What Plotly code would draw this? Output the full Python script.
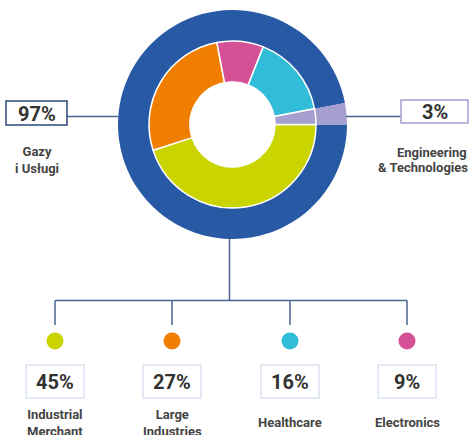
import plotly.graph_objects as go

W, H = 475, 435

# ---- data ----
outer_labels = ["Gazy i Usługi", "Engineering & Technologies"]
outer_values = [97, 3]
outer_colors = ["#2859A5", "#A59FCF"]

inner_labels = ["Industrial Merchant", "Large Industries", "Electronics", "Healthcare", "Engineering & Technologies"]
inner_values = [45, 27, 9, 16, 3]
inner_colors = ["#C9D400", "#F07E00", "#D55095", "#31BCD8", "#A59FCF"]

seg_labels = ["Industrial<br>Merchant", "Large<br>Industries", "Healthcare", "Electronics"]
seg_values = [45, 27, 16, 9]
seg_colors = ["#C9D400", "#F07E00", "#31BCD8", "#D55095"]

LINE = "#4A6690"
TXT = "#333333"

def px(x):
    return x / W

def py(y):
    return 1 - y / H

cx, cy = 232.5, 124.5
R_out, R_in = 114.5, 83.5
R_hole = 42.5

fig = go.Figure()
fig.add_trace(go.Pie(
    values=outer_values, labels=outer_labels, sort=False, direction="clockwise",
    rotation=90, hole=R_in / R_out, textinfo="none", hoverinfo="label+percent",
    marker=dict(colors=outer_colors, line=dict(width=0)),
    domain=dict(x=[px(cx - R_out), px(cx + R_out)], y=[py(cy + R_out), py(cy - R_out)]),
    showlegend=False,
))
fig.add_trace(go.Pie(
    values=inner_values, labels=inner_labels, sort=False, direction="clockwise",
    rotation=90, hole=R_hole / R_in, textinfo="none", hoverinfo="label+percent",
    marker=dict(colors=inner_colors, line=dict(color="white", width=1.5)),
    domain=dict(x=[px(cx - R_in), px(cx + R_in)], y=[py(cy + R_in), py(cy - R_in)]),
    showlegend=False,
))

shapes = []
ann = []

def line(x0, y0, x1, y1, color=LINE, w=1.5):
    shapes.append(dict(type="line", xref="paper", yref="paper",
                       x0=px(x0), y0=py(y0), x1=px(x1), y1=py(y1),
                       line=dict(color=color, width=w)))

def box(x0, y0, x1, y1, color, w=1.5):
    shapes.append(dict(type="rect", xref="paper", yref="paper",
                       x0=px(x0), y0=py(y0), x1=px(x1), y1=py(y1),
                       line=dict(color=color, width=w), fillcolor="white", layer="above"))

def text(x, y, s, size, bold=True, color=TXT):
    ann.append(dict(x=px(x), y=py(y), xref="paper", yref="paper", text=f"<b>{s}</b>" if bold else s,
                    showarrow=False, font=dict(family="Roboto", size=size, color=color),
                    xanchor="center", yanchor="middle"))

# left / right callouts
line(67, 116.5, cx - R_out + 1, 116.5)
line(cx + R_out - 1, 116.5, 401, 116.5)
box(6, 101, 67, 125, "#2A4A7F")
box(401, 100, 468, 123, "#A59FCF")
text(36.5, 113.5, f"{outer_values[0]}%", 20)
text(434.5, 112.5, f"{outer_values[1]}%", 20)
text(37, 159.5, "Gazy<br>i Usługi", 13, color="#444444")
text(431.5, 152, "Engineering", 13, color="#444444")
text(423, 167.5, "& Technologies", 13, color="#444444")

# bottom tree
xs = [55, 172, 290, 407]
line(229.5, cy + R_out, 229.5, 300.5)
line(xs[0], 300.5, xs[-1], 300.5)
for i, x in enumerate(xs):
    line(x, 300.5, x, 325)
    shapes.append(dict(type="circle", xref="paper", yref="paper",
                       x0=px(x - 8.5), x1=px(x + 8.5), y0=py(341 + 8.5), y1=py(341 - 8.5),
                       fillcolor=seg_colors[i], line=dict(width=0)))
    box(x - 29, 365, x + 29, 398, "#DCE3EF")
    text(x, 381.5, f"{seg_values[i]}%", 20)
    text(x, 422.5, seg_labels[i], 13, color="#444444")

fig.update_layout(
    width=W, height=H, margin=dict(l=0, r=0, t=0, b=0),
    paper_bgcolor="white", plot_bgcolor="white",
    shapes=shapes, annotations=ann,
)
fig.write_html("out.html", config={"displayModeBar": False},
               post_script="document.body.style.margin='0';document.body.style.overflow='hidden';")
